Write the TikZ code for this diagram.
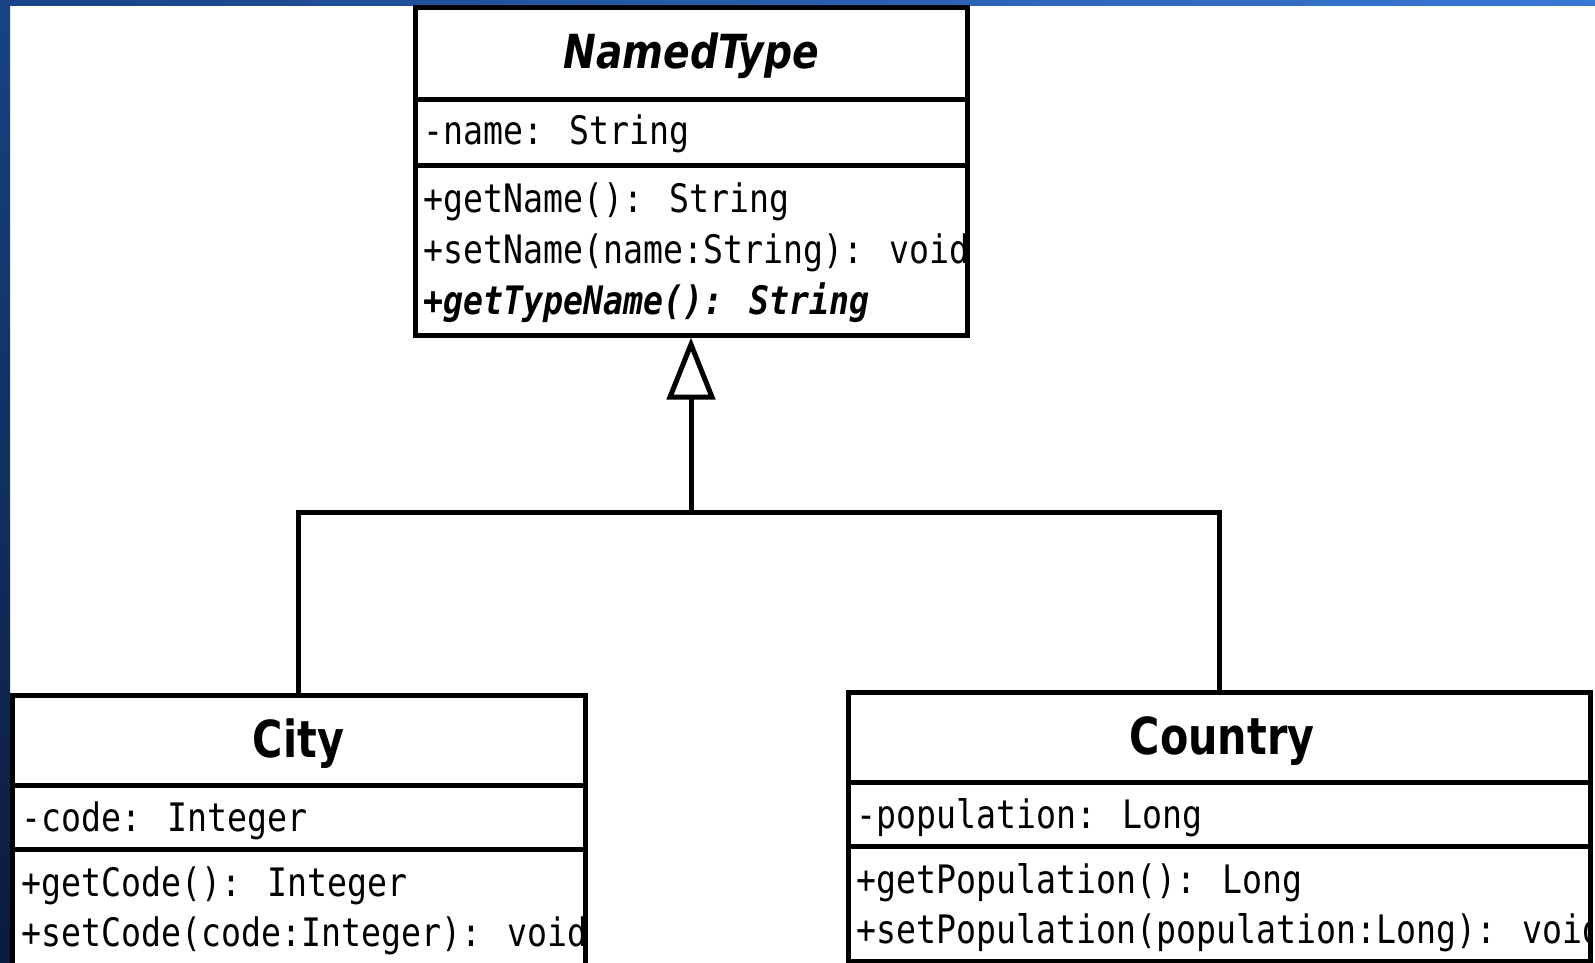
\documentclass[tikz,border=0pt]{standalone}
\usepackage{fontspec}
\usepackage{graphicx}
\usetikzlibrary{arrows.meta}
\newfontfamily\membfont[FakeStretch=0.847]{DejaVu Sans Mono}
\newfontfamily\clsfont[FakeStretch=0.81]{DejaVu Sans}
\newfontfamily\absfont[FakeStretch=0.835]{DejaVu Sans}
\definecolor{topL}{RGB}{23,67,133}
\definecolor{topR}{RGB}{58,120,214}
\definecolor{leftB}{RGB}{11,27,59}
\tikzset{
  umlbox/.style={draw=black, line width=2.5pt, rectangle, inner sep=0pt},
  divider/.style={draw=black, line width=2.5pt},
  member/.style={anchor=base west, inner sep=0pt, font=\membfont\fontsize{19.6}{20}\selectfont},
  clsname/.style={anchor=base, inner sep=0pt, font=\clsfont\bfseries\fontsize{25.5}{26}\selectfont},
  absname/.style={anchor=base, inner sep=0pt, font=\absfont\bfseries\itshape\fontsize{23.5}{24}\selectfont},
  link/.style={draw=black, line width=2.5pt},
}
\begin{document}
\begin{tikzpicture}[x=0.5pt,y=-0.5pt]
\useasboundingbox (0,0) rectangle (1595,963);
\clip (0,0) rectangle (1595,963);
\fill[white] (0,0) rectangle (1595,963);
\shade[left color=topL, right color=topR] (0,0) rectangle (1595,6);
\shade[top color=topL, bottom color=leftB] (0,0) rectangle (10,963);

% boxes
\node[umlbox, minimum width=276pt, minimum height=163.5pt] (named) at (691,171.5) {};
\node[umlbox, minimum width=286.5pt, minimum height=157.5pt] (city) at (298.5,852.5) {};
\node[umlbox, minimum width=371pt, minimum height=134.5pt] (country) at (1219,826.5) {};

% dividers
\draw[divider] (named.west |- 0,100) -- (named.east |- 0,100);
\draw[divider] (named.west |- 0,165) -- (named.east |- 0,165);
\draw[divider] (city.west |- 0,785) -- (city.east |- 0,785);
\draw[divider] (city.west |- 0,849) -- (city.east |- 0,849);
\draw[divider] (country.west |- 0,782) -- (country.east |- 0,782);
\draw[divider] (country.west |- 0,846) -- (country.east |- 0,846);

% titles
\node[absname] (namedT) at (691,69) {NamedType};
\node[clsname] (cityT) at (298.5,757) {City};
\node[clsname] (countryT) at (1222,754) {Country};

% members
\begin{scope}
\clip (named.north west) rectangle (named.south east);
\node[member] (n1) at (423,145) {-name: String};
\node[member] (n2) at (423,212) {+getName(): String};
\node[member] (n3) at (423,263) {+setName(name:String): void};
\node[member] (n4) at (423,314) {\bfseries\itshape +getTypeName(): String};
\end{scope}
\begin{scope}
\clip (city.north west) rectangle (city.south east);
\node[member] (c1) at (21,831) {-code: Integer};
\node[member] (c2) at (21,896) {+getCode(): Integer};
\node[member] (c3) at (21,946) {+setCode(code:Integer): void};
\end{scope}
\begin{scope}
\clip (country.north west) rectangle (country.south east);
\node[member] (k1) at (856,828) {-population: Long};
\node[member] (k2) at (856,893) {+getPopulation(): Long};
\node[member] (k3) at (856,943) {+setPopulation(population:Long): void};
\end{scope}

% generalization
\coordinate (junction) at (691,512);
\draw[link] (city.north) |- (junction) -| (country.north);
\draw[link, -{Triangle[open, length=31pt, width=24pt, line width=2.5pt]}] (junction) -- (named.south);
\end{tikzpicture}
\end{document}
